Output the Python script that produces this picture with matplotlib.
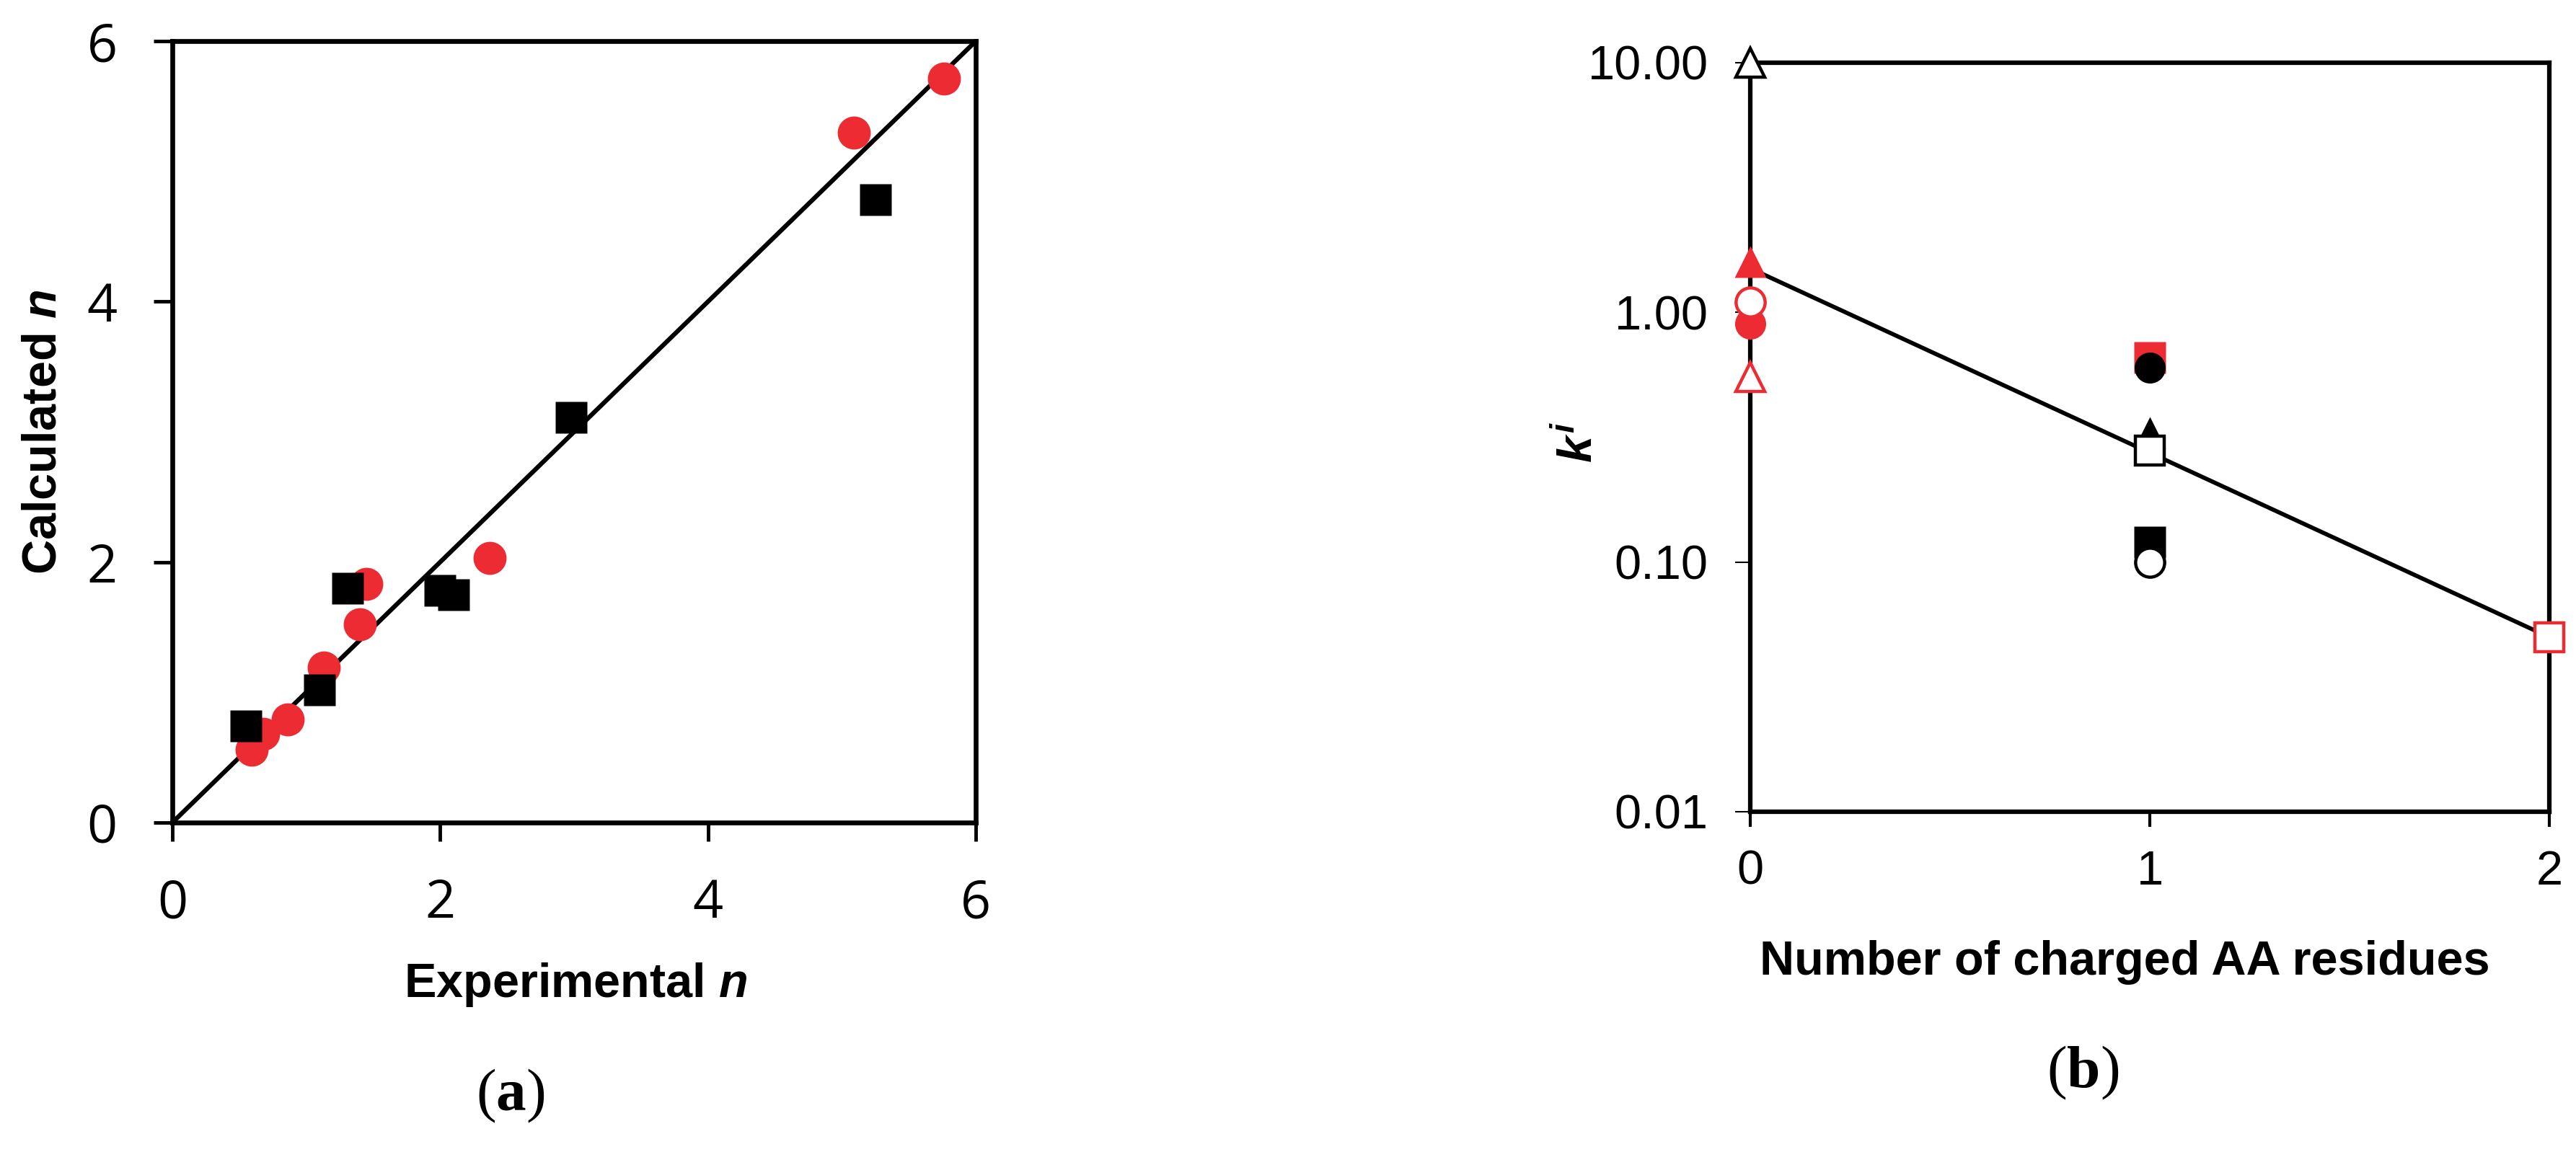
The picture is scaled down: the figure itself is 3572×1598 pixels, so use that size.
import matplotlib
matplotlib.use("Agg")
import matplotlib.pyplot as plt

# (a) experimental vs calculated n
exp_red = [0.59, 0.68, 0.86, 1.13, 1.40, 1.45, 2.37, 5.09, 5.76]
calc_red = [0.56, 0.68, 0.79, 1.19, 1.52, 1.83, 2.03, 5.30, 5.71]
exp_black = [0.55, 1.10, 1.31, 2.00, 2.10, 2.98, 5.25]
calc_black = [0.74, 1.02, 1.80, 1.78, 1.75, 3.11, 4.78]
diag = [0, 6]
ticks_a = [0, 2, 4, 6]

# (b) k^i vs number of charged residues
n_charged = [0, 0, 0, 0, 0, 1, 1, 1, 1, 1, 1, 2]
ki_vals = [10.0, 1.6, 0.9, 1.1, 0.55, 0.66, 0.60, 0.33, 0.28, 0.12, 0.10, 0.05]
fit_x = [0, 2]
fit_y = [1.5, 0.05]
yticks_b = [10, 1, 0.1, 0.01]
ytick_labels_b = ["10.00", "1.00", "0.10", "0.01"]
xticks_b = [0, 1, 2]

RED = "#ED2B33"
# marker, colour, filled  (same order as ki_vals)
styles_b = [
    ("^", "black", False),
    ("^", RED, True),
    ("o", RED, True),
    ("o", RED, False),
    ("^", RED, False),
    ("s", RED, True),
    ("o", "black", True),
    ("^", "black", True),
    ("s", "black", False),
    ("s", "black", True),
    ("o", "black", False),
    ("s", RED, False),
]

plt.rcParams["mathtext.fontset"] = "custom"
plt.rcParams["mathtext.it"] = "Liberation Sans:italic:bold"
plt.rcParams["mathtext.rm"] = "Liberation Sans"
plt.rcParams["mathtext.bf"] = "Liberation Serif:bold"

fig = plt.figure(figsize=(35.73, 15.98), dpi=100)
ax1 = fig.add_axes([0.0669, 0.2860, 0.3118, 0.6783])
ax2 = fig.add_axes([0.6793, 0.2954, 0.3101, 0.6502])

label_font = dict(family="Liberation Sans", fontweight="bold", fontsize=48)

# ---- panel (a)
ax1.plot(diag, diag, color="black", lw=4.5, zorder=2, solid_capstyle="butt")
ax1.plot(exp_red, calc_red, "o", color=RED, ms=33, mec="none", zorder=3, clip_on=False)
ax1.plot(exp_black, calc_black, "s", color="black", ms=32, mec="none", zorder=4, clip_on=False)
ax1.set_xlim(0, 6)
ax1.set_ylim(0, 6)
ax1.set_xticks(ticks_a)
ax1.set_yticks(ticks_a)
ax1.tick_params(direction="out", length=19, width=3.5, pad=36, labelsize=53)
for lab in ax1.get_xticklabels() + ax1.get_yticklabels():
    lab.set_family("Open Sans")
for sp in ax1.spines.values():
    sp.set_linewidth(4.8)
ax1.set_xlabel("Experimental $n$", va="baseline", **label_font)
ax1.xaxis.set_label_coords(0.502, -0.2232)
ax1.set_ylabel("Calculated $n$", va="center", **label_font)
ax1.yaxis.set_label_coords(-0.1607, 0.5)

# ---- panel (b)
ax2.set_yscale("log")
ax2.plot(fit_x, fit_y, color="black", lw=4.2, zorder=2)
for xv, yv, (mk, col, filled) in zip(n_charged, ki_vals, styles_b):
    if filled:
        ms = 32 if mk == "^" else 31
        ax2.plot(xv, yv, mk, color=col, ms=ms, mec="none", zorder=5, clip_on=False)
    else:
        ax2.plot(xv, yv, mk, mfc="white", mec=col, ms=29, mew=3.2, zorder=6, clip_on=False)
ax2.set_xlim(0, 2)
ax2.set_ylim(0.01, 10)
ax2.set_xticks(xticks_b)
ax2.set_yticks(yticks_b)
ax2.set_yticklabels(ytick_labels_b)
ax2.minorticks_off()
ax2.tick_params(axis="x", direction="out", length=15, width=3, pad=23, labelsize=48)
ax2.tick_params(axis="y", direction="out", length=15, width=1.5, pad=27, labelsize=48)
for lab in ax2.get_xticklabels() + ax2.get_yticklabels():
    lab.set_family("Liberation Sans")
for sp in ax2.spines.values():
    sp.set_linewidth(4.5)
ax2.set_xlabel("Number of charged AA residues", va="baseline", **label_font)
ax2.xaxis.set_label_coords(0.469, -0.2175)
ax2.set_ylabel("$k^{i}$", va="center", **label_font)
ax2.yaxis.set_label_coords(-0.214, 0.493)

# captions
fig.text(708 / 3573, 1 - 1540 / 1598, r"($\mathbf{a}$)", family="Liberation Serif",
         fontsize=60, ha="center", va="baseline")
fig.text(2888 / 3573, 1 - 1508 / 1598, r"($\mathbf{b}$)", family="Liberation Serif",
         fontsize=60, ha="center", va="baseline")

fig.savefig("out.png", dpi=100)
